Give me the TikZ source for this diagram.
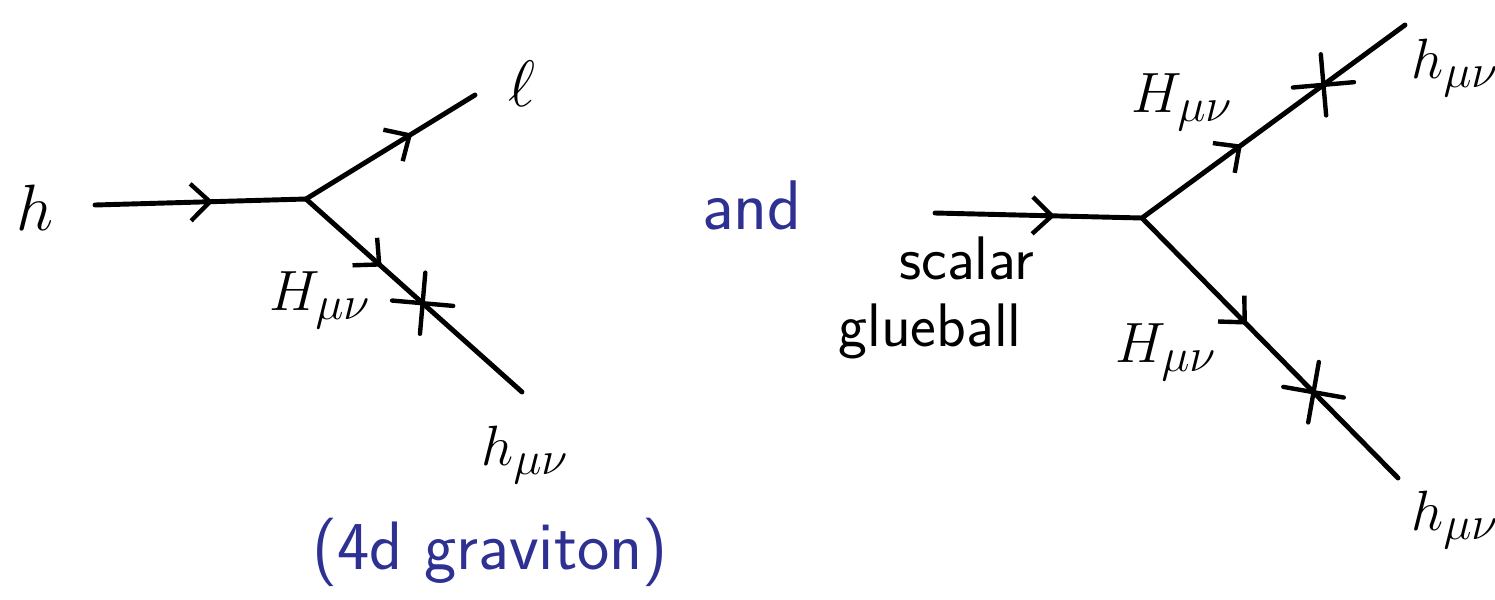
\documentclass[tikz,border=0pt]{standalone}
\usepackage{graphicx}
\usetikzlibrary{arrows.meta,decorations.markings,shapes.misc}
\definecolor{ink}{RGB}{46,49,146}
\newcommand\mylbl[1]{\scalebox{1.3}{\Huge$#1$}}
\begin{document}
\begin{tikzpicture}[x=0.02cm,y=-0.02cm,
  line/.style={line width=2.8pt, line cap=round, line join=round},
  midarrow/.style={postaction={decorate,decoration={markings,mark=at position #1 with {\arrow{Straight Barb[length=11pt,width=21pt,line width=2.5pt]}}}}},
  crossmark/.style={draw, cross out, line width=2.5pt, inner sep=0pt, minimum size=0.78cm, rotate=#1},
  lbl/.style={inner sep=0pt},
  txt/.style={font=\sffamily\fontsize{35}{40}\selectfont, inner sep=0pt, align=center}
]
\useasboundingbox (0,0) rectangle (1495,599);

% left diagram
\node[lbl] (h) at (35,208) {\scalebox{1.5}{\Huge$h$}};
\coordinate (a1) at (95,205);
\coordinate (v1) at (306,199);
\coordinate (l1) at (475,95);
\coordinate (d1) at (522,392);
\node[lbl] (ell) at (522,84) {\scalebox{1.5}{\Huge$\ell$}};
\node[lbl] (H1) at (320,300) {\mylbl{H_{\mu\nu}}};
\node[lbl] (h1) at (525,455) {\mylbl{h_{\mu\nu}}};
\node[txt, text=ink, font=\sffamily\fontsize{39}{44}\selectfont] (grav) at (490,552) {(4d graviton)};

\draw[line, midarrow=0.56] (a1) -- (v1);
\draw[line, midarrow=0.63] (v1) -- (l1);
\draw[line, midarrow=0.35] (v1) -- node[crossmark=40, pos=0.54] (x1) {} (d1);

% middle
\node[txt, text=ink, font=\sffamily\fontsize{40}{44}\selectfont] (and) at (752,205) {and};

% right diagram
\coordinate (a2) at (935,213);
\coordinate (v2) at (1142,218);
\coordinate (u2) at (1405,25);
\coordinate (d2) at (1398,478);
\node[txt] (glue) at (930,298) {\hspace*{1.2em}scalar\\[-2pt]glueball};
\node[lbl] (H2) at (1182,102) {\mylbl{H_{\mu\nu}}};
\node[lbl] (H3) at (1166,352) {\mylbl{H_{\mu\nu}}};
\node[lbl] (h2) at (1455,68) {\mylbl{h_{\mu\nu}}};
\node[lbl] (h3) at (1455,520) {\mylbl{h_{\mu\nu}}};

\draw[line, midarrow=0.58] (a2) -- (v2);
\draw[line, midarrow=0.38] (v2) -- node[crossmark=50, pos=0.69] (x2) {} (u2);
\draw[line, midarrow=0.41] (v2) -- node[crossmark=35, pos=0.67] (x3) {} (d2);
\end{tikzpicture}
\end{document}
